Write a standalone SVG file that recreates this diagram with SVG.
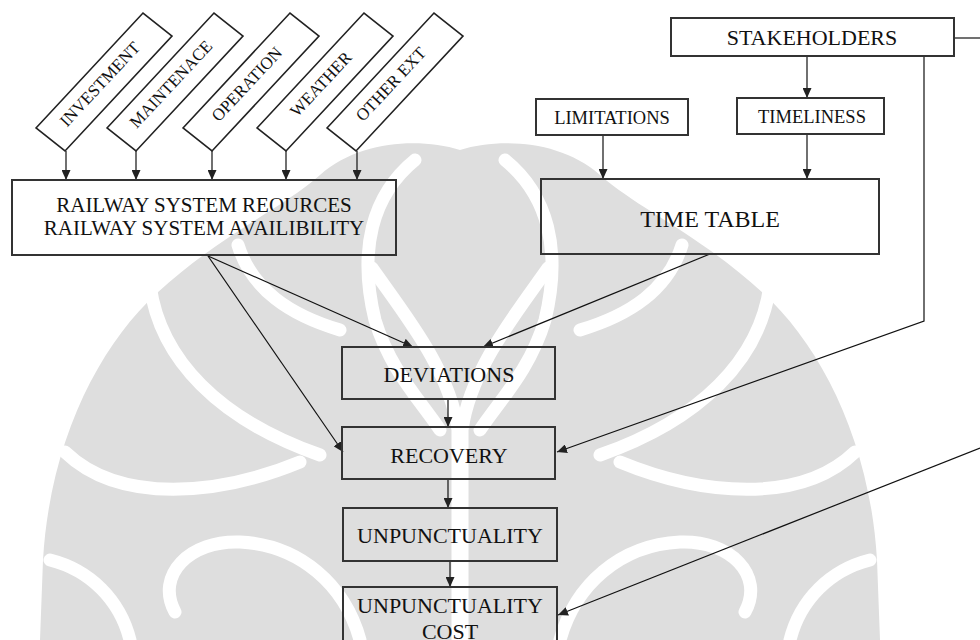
<svg xmlns="http://www.w3.org/2000/svg" width="980" height="640" viewBox="0 0 980 640">
<style>
.box{fill:none;stroke:#333;stroke-width:2}
.dia{fill:none;stroke:#222;stroke-width:1.6}
.t{font-family:"Liberation Serif","Times New Roman",serif;fill:#111;text-anchor:middle}
.m{font-size:22px}
.r{font-size:21px}
.s{font-size:18.5px}
.d{font-size:17px}
.c{fill:none;stroke:#111;stroke-width:1.2}
.wm{fill:#dedede}
.wl{fill:none;stroke:#fff;stroke-width:13;stroke-linecap:round}
</style>
<defs>
<marker id="ah" markerUnits="userSpaceOnUse" markerWidth="10" markerHeight="9" refX="10" refY="4.5" orient="auto">
<path d="M0,0 L10,4.5 L0,9 Z" fill="#222"/>
</marker>
</defs>
<rect width="980" height="640" fill="#fff"/>
<g id="watermark">
<g id="wm-right">
<path class="wm" d="M460,150 C500,138 560,140 600,175 C640,210 700,235 763,293 C820,345 870,440 877,560 L880,640 L460,640 Z"/>
<path class="wl" d="M462,640 L462,430 C470,370 515,315 548,268"/>
<path class="wl" d="M505,160 C548,195 562,250 545,320 C530,370 500,400 480,430"/>
<path class="wl" d="M580,330 C630,315 668,290 682,245"/>
<path class="wl" d="M600,455 C700,420 760,360 770,285"/>
<path class="wl" d="M620,462 C700,495 800,505 855,452"/>
<path class="wl" d="M560,640 C575,585 620,545 680,542 C730,540 765,575 745,612"/>
<path class="wl" d="M790,640 C800,600 830,570 870,560"/>
</g>
<use href="#wm-right" transform="translate(920,0) scale(-1,1)"/>
</g>
<g id="connectors">
<line class="c" x1="66" y1="151" x2="66" y2="180" marker-end="url(#ah)"/>
<line class="c" x1="136" y1="151" x2="136" y2="180" marker-end="url(#ah)"/>
<line class="c" x1="212" y1="151" x2="212" y2="180" marker-end="url(#ah)"/>
<line class="c" x1="286" y1="151" x2="286" y2="180" marker-end="url(#ah)"/>
<line class="c" x1="357" y1="151" x2="357" y2="180" marker-end="url(#ah)"/>
<line class="c" x1="807" y1="56" x2="807" y2="98" marker-end="url(#ah)"/>
<line class="c" x1="603" y1="135" x2="603" y2="179" marker-end="url(#ah)"/>
<line class="c" x1="807" y1="134" x2="807" y2="179" marker-end="url(#ah)"/>
<line class="c" x1="208" y1="256" x2="413" y2="347" marker-end="url(#ah)"/>
<line class="c" x1="208" y1="256" x2="343" y2="452" marker-end="url(#ah)"/>
<line class="c" x1="710" y1="254" x2="483" y2="347" marker-end="url(#ah)"/>
<line class="c" x1="448" y1="399" x2="448" y2="427" marker-end="url(#ah)"/>
<line class="c" x1="448" y1="479" x2="448" y2="508" marker-end="url(#ah)"/>
<line class="c" x1="450" y1="561" x2="450" y2="587" marker-end="url(#ah)"/>
<polyline class="c" points="924,56 924,321 557,452" marker-end="url(#ah)"/>
<line class="c" x1="980" y1="448" x2="558" y2="615" marker-end="url(#ah)"/>
<line class="c" x1="954" y1="38" x2="980" y2="38"/>
</g>
<g id="n-investment">
<polygon class="dia" points="36,128 143,13 172,36 65,151"/>
<text class="t d" transform="translate(104,88) rotate(-47)">INVESTMENT</text>
</g>
<g id="n-maintenace">
<polygon class="dia" points="107,128 214,13 243,36 136,151"/>
<text class="t d" transform="translate(175,88) rotate(-47)">MAINTENACE</text>
</g>
<g id="n-operation">
<polygon class="dia" points="183,128 290,13 319,36 212,151"/>
<text class="t d" transform="translate(251,88) rotate(-47)">OPERATION</text>
</g>
<g id="n-weather">
<polygon class="dia" points="257,128 364,13 393,36 286,151"/>
<text class="t d" transform="translate(325,88) rotate(-47)">WEATHER</text>
</g>
<g id="n-otherext">
<polygon class="dia" points="327,128 434,13 463,36 356,151"/>
<text class="t d" transform="translate(395,88) rotate(-47)">OTHER EXT</text>
</g>
<g id="n-railway">
<rect class="box" x="12" y="180" width="384" height="75"/>
<text class="t r" x="204" y="212">RAILWAY SYSTEM REOURCES</text>
<text class="t r" x="204" y="235">RAILWAY SYSTEM AVAILIBILITY</text>
</g>
<g id="n-stakeholders">
<rect class="box" x="671" y="18" width="283" height="38"/>
<text class="t m" x="812" y="45">STAKEHOLDERS</text>
</g>
<g id="n-limitations">
<rect class="box" x="536" y="99" width="152" height="36"/>
<text class="t s" x="612" y="124">LIMITATIONS</text>
</g>
<g id="n-timeliness">
<rect class="box" x="737" y="98" width="147" height="36"/>
<text class="t s" x="812" y="123">TIMELINESS</text>
</g>
<g id="n-timetable">
<rect class="box" x="541" y="179" width="338" height="75"/>
<text class="t" style="font-size:24px" x="710" y="227">TIME TABLE</text>
</g>
<g id="n-deviations">
<rect class="box" x="342" y="347" width="213" height="52"/>
<text class="t m" x="449" y="382">DEVIATIONS</text>
</g>
<g id="n-recovery">
<rect class="box" x="342" y="427" width="213" height="52"/>
<text class="t m" x="449" y="463">RECOVERY</text>
</g>
<g id="n-unpunctuality">
<rect class="box" x="343" y="508" width="214" height="53"/>
<text class="t m" x="450" y="543">UNPUNCTUALITY</text>
</g>
<g id="n-cost">
<rect class="box" x="343" y="587" width="214" height="80"/>
<text class="t m" x="450" y="613">UNPUNCTUALITY</text>
<text class="t m" x="450" y="639">COST</text>
</g>
</svg>
